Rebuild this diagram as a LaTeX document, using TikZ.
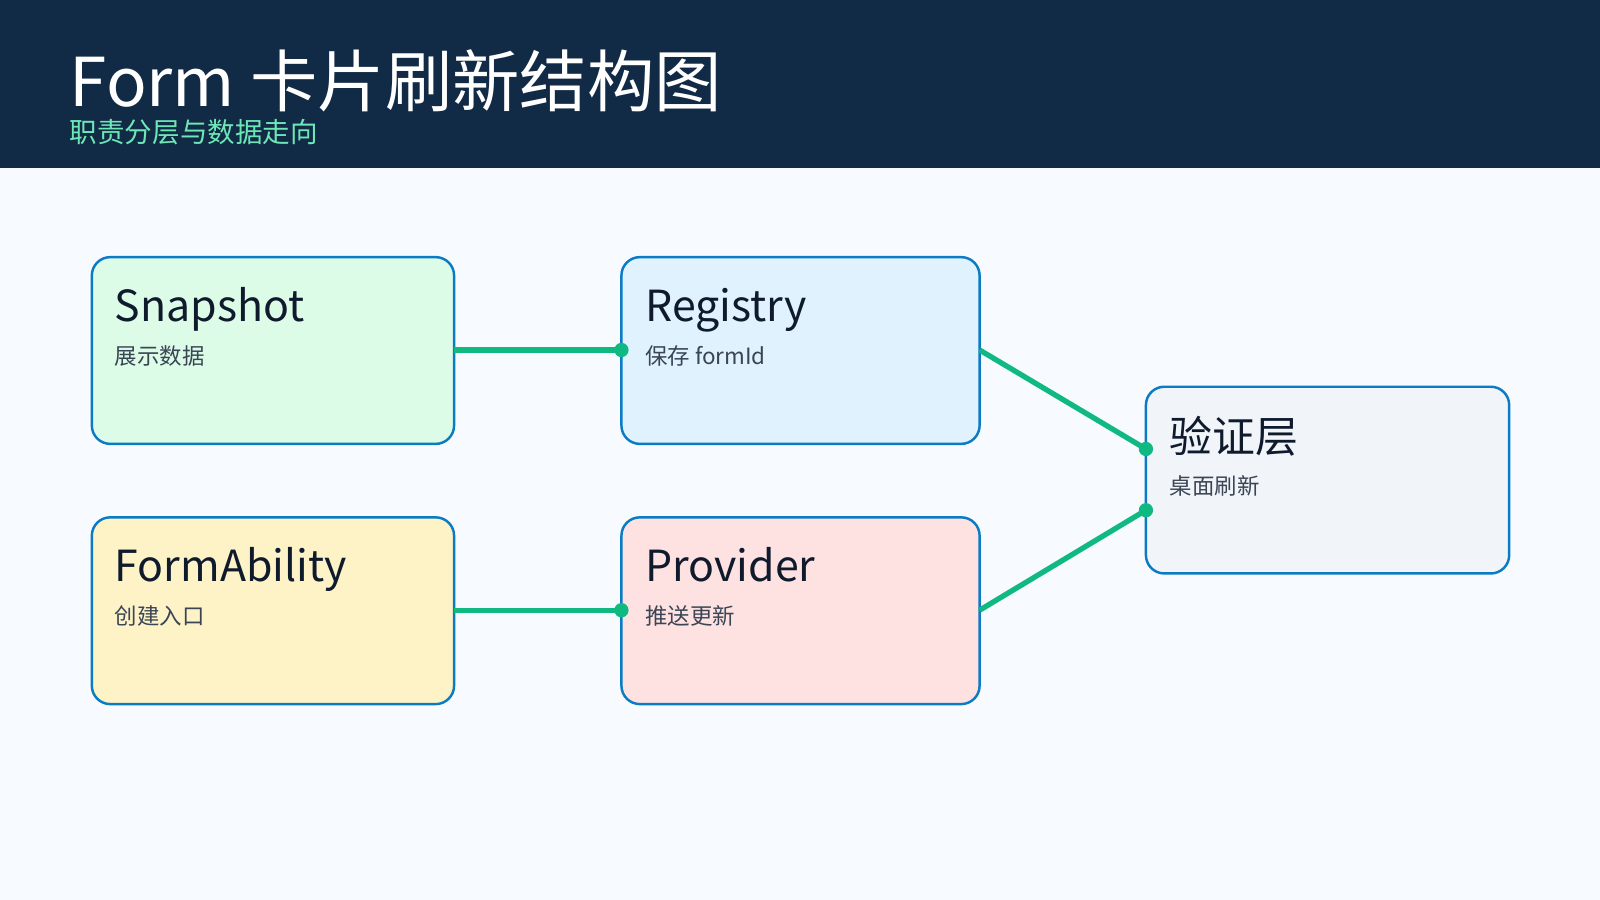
\documentclass[tikz,border=0pt]{standalone}
\usepackage{fontspec}
\setmainfont{Noto Sans CJK SC}
\definecolor{hdr}{HTML}{112A45}
\definecolor{bg}{HTML}{F7FAFE}
\definecolor{grn}{HTML}{10B981}
\definecolor{sub}{HTML}{6EE7B7}
\definecolor{bd}{HTML}{0B7BC4}
\definecolor{txt}{HTML}{0F1B2D}
\definecolor{txt2}{HTML}{3A4555}
\begin{document}
\begin{tikzpicture}[x=0.5pt,y=-0.5pt,
  box/.style={draw=bd,line width=1.2pt,rounded corners=9pt},
  ttl/.style={anchor=base west,font=\fontsize{21}{24}\selectfont,text=txt,inner sep=0},
  st/.style={anchor=base west,font=\fontsize{11}{13}\selectfont,text=txt2,inner sep=0},
  con/.style={grn,line width=2.6pt},
  dot/.style={circle,fill=grn,inner sep=0,minimum size=7pt}]
\fill[bg] (0,0) rectangle (1568,882);
\useasboundingbox (0,0) rectangle (1568,882);
\fill[hdr] (0,0) rectangle (1568,165);
\node[anchor=base west,inner sep=0,text=white,font=\fontsize{33}{38}\selectfont] (title) at (68,104) {Form 卡片刷新结构图};
\node[anchor=base west,inner sep=0,text=sub,font=\fontsize{13.5}{16}\selectfont] (subt) at (68,140) {职责分层与数据走向};
\filldraw[box,fill=green!12!white,fill={rgb,255:red,220;green,252;blue,231}] (90,252) rectangle (445,435);
\filldraw[box,fill={rgb,255:red,224;green,242;blue,254}] (609,252) rectangle (960,435);
\filldraw[box,fill={rgb,255:red,241;green,245;blue,249}] (1123,379) rectangle (1479,562);
\filldraw[box,fill={rgb,255:red,254;green,243;blue,199}] (90,507) rectangle (445,690);
\filldraw[box,fill={rgb,255:red,254;green,226;blue,226}] (609,507) rectangle (960,690);
\node[ttl] (t1) at (112,315) {Snapshot};
\node[st] (s1) at (112,357) {展示数据};
\node[ttl] (t2) at (632,315) {Registry};
\node[st] (s2) at (632,357) {保存 formId};
\node[ttl] (t3) at (1146,443) {验证层};
\node[st] (s3) at (1146,485) {桌面刷新};
\node[ttl] (t4) at (112,570) {FormAbility};
\node[st] (s4) at (112,612) {创建入口};
\node[ttl] (t5) at (632,570) {Provider};
\node[st] (s5) at (632,612) {推送更新};
\coordinate (a1) at (445,343); \coordinate (b1) at (609,343);
\coordinate (a2) at (960,343); \coordinate (b2) at (1123,440);
\coordinate (a3) at (960,598); \coordinate (b3) at (1123,500);
\coordinate (a4) at (445,598); \coordinate (b4) at (609,598);
\draw[con] (a1) -- (b1); \node[dot] (d1) at (b1) {};
\draw[con] (a2) -- (b2); \node[dot] (d2) at (b2) {};
\draw[con] (a3) -- (b3); \node[dot] (d3) at (b3) {};
\draw[con] (a4) -- (b4); \node[dot] (d4) at (b4) {};
\end{tikzpicture}
\end{document}
